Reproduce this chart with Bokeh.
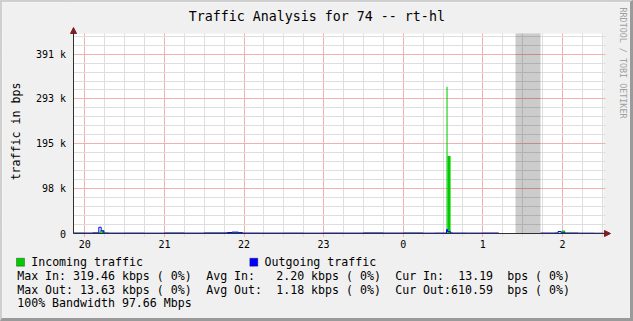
import math
from bokeh.plotting import figure
from bokeh.models import (Range1d, FixedTicker, BoxAnnotation, Arrow, NormalHead,
                          Label, Grid, ColumnDataSource)
from bokeh.core.properties import value
from bokeh.embed import file_html
from bokeh.resources import INLINE

nan = float("nan")

# ---------------- data ----------------
hour_ticks = [20, 21, 22, 23, 24, 25, 26]
hour_labels = ["20", "21", "22", "23", "0", "1", "2"]
quarter_ticks = [19.75 + 0.25 * i for i in range(28)]

y_ticks = [0, 97656.25, 195312.5, 292968.75, 390625]
y_labels = ["0", "98 k", "195 k", "293 k", "391 k"]
y_minor_ticks = [19531.25 * i for i in range(23)]

# sample start times (hours; after midnight shown as 24+)
t_start = [19.858, 20.0, 20.1, 20.176, 20.19, 20.206, 20.239, 20.245, 20.3, 20.5,
           20.75, 21.0, 21.25, 21.5, 21.79, 21.85, 21.93, 21.98, 22.2, 22.5,
           22.75, 23.0, 23.25, 23.5, 23.75, 24.0, 24.25, 24.4, 24.544, 24.557,
           24.595, 24.62, 24.8, 25.0, 25.2, 25.411, 25.725, 25.9, 25.945, 25.985,
           25.992, 26.035, 26.2, 26.4]
t_end = 26.516

incoming_bps = [1500, 1200, 1800, 2500, 6500, 6500, 6000, 1500, 1100, 1300,
                1000, 1400, 1200, 1600, 2600, 3200, 2400, 1300, 1100, 1200,
                1000, 1300, 1100, 1500, 1200, 1400, 1000, 1200, 319460, 169000,
                1800, 1200, 1100, 1300, 1000, nan, 1200, 1400, 1600, 1800,
                6500, 1500, 1300, 13.19]

outgoing_bps = [900, 1000, 1400, 13630, 13630, 6000, 1100, 1100, 900, 1000,
                800, 1100, 900, 1200, 2200, 3000, 2000, 1000, 900, 1000,
                800, 1000, 900, 1200, 1000, 1100, 800, 1000, 8500, 4000,
                1300, 1000, 900, 1100, 900, nan, 1000, 1100, 4300, 1500,
                1400, 1000, 800, 610.59]

unknown_start, unknown_end = 25.411, 25.725

max_in_kbps, avg_in_kbps, cur_in_bps = 319.46, 2.20, 13.19
max_out_kbps, avg_out_kbps, cur_out_bps = 13.63, 1.18, 610.59
bandwidth_mbps = 97.66

title_text = "Traffic Analysis for 74 -- rt-hl"
y_axis_title = "traffic in bps"
credit_text = "RRDTOOL / TOBI OETIKER"
series_names = ["Incoming traffic", "Outgoing traffic"]

# ---------------- geometry (page pixels) ----------------
PAGE_W, PAGE_H = 633, 321
BL, BT, BR, BB = 2, 2, 3, 3           # outer 3D frame (css border, border-box)
AX_X, AX_Y = 73, 233                   # axis crossing
PLOT_T = 33                            # plot top
PX_PER_H = 79.6
X0 = 19.858                            # time at the y axis
YMAX = 435500.0                        # value at the plot top

def px2x(px):
    return X0 + (px - AX_X) / PX_PER_H

def py2y(py):
    return (AX_Y - py) * YMAX / (AX_Y - PLOT_T)

MONO = "DejaVu Sans Mono"
GREEN = "#00cc00"
BLUE = "#0000ff"
ARROW = "#7f1f1f"
AXIS = "#303030"
BACK = "#f0f0f0"

# canvas is PAGE_W x PAGE_H, drawn from page offset (BL, BT)
p = figure(width=PAGE_W, height=PAGE_H, output_backend="svg", toolbar_location=None,
           x_range=Range1d(px2x(BL), px2x(BL + PAGE_W)),
           y_range=Range1d(py2y(BT + PAGE_H), py2y(BT)),
           x_axis_location=None, y_axis_location=None, title=None,
           min_border=0, min_border_left=0, min_border_right=0,
           min_border_top=0, min_border_bottom=0)
p.background_fill_color = BACK
p.border_fill_color = BACK
p.outline_line_color = None
p.styles = {"border-left": f"{BL}px solid #cfcfcf", "border-top": f"{BT}px solid #cfcfcf",
            "border-right": f"{BR}px solid #9a9a9a", "border-bottom": f"{BB}px solid #9a9a9a"}
for g in p.grid:
    g.visible = False

# white plot area
p.add_layout(BoxAnnotation(left=X0, right=t_end, bottom=0, top=YMAX, fill_color="#ffffff",
                           fill_alpha=1, line_color=None, level="image"))

# grids
xgrid = Grid(dimension=0, ticker=FixedTicker(
    ticks=hour_ticks, minor_ticks=[q for q in quarter_ticks if q not in hour_ticks]))
ygrid = Grid(dimension=1, ticker=FixedTicker(
    ticks=y_ticks, minor_ticks=[m for m in y_minor_ticks if m not in y_ticks]))
for g in (xgrid, ygrid):
    g.grid_line_color = "#f4b0b0"
    g.minor_grid_line_color = "#dedede"
    p.add_layout(g, "center")

# hide grid outside the plot area (keep small ticks below the x axis)
for kw in (dict(bottom=YMAX),                         # above plot
           dict(top=py2y(AX_Y + 3.5)),                  # below tick stubs
           dict(left=px2x(605)),                        # right of plot
           dict(right=px2x(AX_X - 0.5))):               # left of axis
    p.add_layout(BoxAnnotation(fill_color=BACK, fill_alpha=1, line_color=None,
                               level="underlay", **kw))

# data
p.quad(left=t_start, right=t_start[1:] + [t_end], bottom=0, top=incoming_bps,
       fill_color=GREEN, line_color=None)
p.step(x=t_start + [t_end], y=outgoing_bps + [outgoing_bps[-1]], mode="after",
       line_color=BLUE, line_width=1)

# unknown data shading
p.add_layout(BoxAnnotation(left=unknown_start, right=unknown_end, bottom=0, top=YMAX,
                           fill_color="#000000", fill_alpha=0.2, line_color=None))

# axes with arrows
p.add_layout(Arrow(end=NormalHead(size=6, fill_color=ARROW, line_color=ARROW),
                   x_start=X0, y_start=0, x_end=px2x(610), y_end=0,
                   line_color=AXIS, line_width=1))
p.add_layout(Arrow(end=NormalHead(size=6, fill_color=ARROW, line_color=ARROW),
                   x_start=X0, y_start=0, x_end=X0, y_end=py2y(27),
                   line_color=AXIS, line_width=1))

# tick labels
xs = ColumnDataSource(dict(x=hour_ticks, y=[0] * len(hour_ticks), text=hour_labels))
p.text(x="x", y="y", text="text", source=xs, y_offset=10.5, text_align="center",
       text_baseline="middle", text_font=value(MONO), text_font_size=value("10px"),
       text_color="#000000")
ys = ColumnDataSource(dict(x=[X0] * len(y_ticks), y=y_ticks, text=y_labels))
p.text(x="x", y="y", text="text", source=ys, x_offset=-7.5, text_align="right",
       text_baseline="middle", text_font=value(MONO), text_font_size=value("10px"),
       text_color="#000000")

def label(px, py, text, size="11.6px", align="left", color="#000000", angle=0.0):
    p.add_layout(Label(x=px2x(px), y=py2y(py), text=text, text_font=MONO,
                       text_font_size=size, text_align=align, text_baseline="middle",
                       text_color=color, angle=angle))

label(15, 131, y_axis_title, align="center", angle=math.pi / 2)
label(316.3, 15.7, title_text, size="13.3px", align="center")
label(622.7, 62.5, credit_text, size="8.4px", align="center", color="#a0a0a0",
      angle=-math.pi / 2)

# legend
for (sx, name, color) in ((16, series_names[0], GREEN), (249.3, series_names[1], BLUE)):
    p.add_layout(BoxAnnotation(left=px2x(sx), right=px2x(sx + 8), top=py2y(257.7),
                               bottom=py2y(265.7), fill_color=color, fill_alpha=1,
                               line_color="#000000", line_width=1))
    label(sx + 14.7, 261.7, name)

# statistics text
CH = 7.0
X_TXT = 16.7
rows = [
    (275.0, [(0, f"Max In: {max_in_kbps:.2f} kbps ( 0%)"), (27, "Avg In:"),
             (37, f"{avg_in_kbps:.2f} kbps ( 0%)"), (54, "Cur In:"),
             (63, f"{cur_in_bps:.2f}"), (70, "bps ( 0%)")]),
    (289.3, [(0, f"Max Out: {max_out_kbps:.2f} kbps ( 0%)"), (27, "Avg Out:"),
             (37, f"{avg_out_kbps:.2f} kbps ( 0%)"), (54, f"Cur Out:{cur_out_bps:.2f}"),
             (70, "bps ( 0%)")]),
    (302.7, [(0, f"100% Bandwidth {bandwidth_mbps:.2f} Mbps")]),
]
for py, segs in rows:
    for col, txt in segs:
        label(X_TXT + col * CH, py, txt)

open("out.html", "w").write(file_html(p, INLINE))
